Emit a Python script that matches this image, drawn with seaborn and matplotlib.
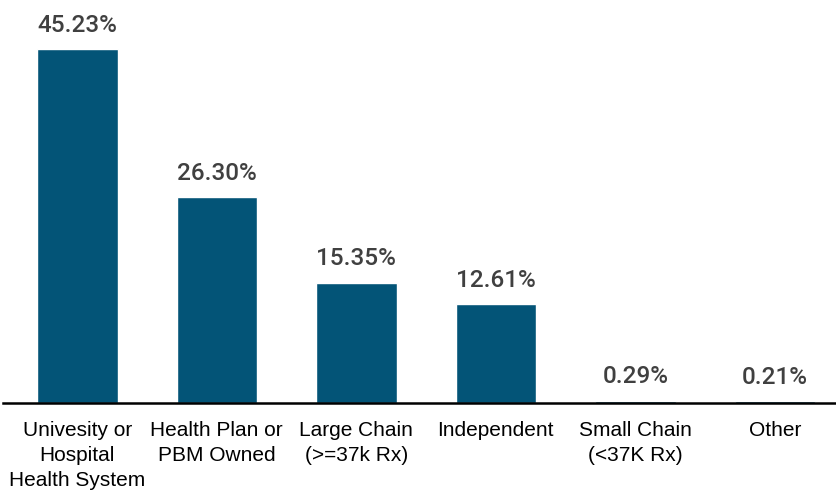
import matplotlib
matplotlib.use("Agg")
import matplotlib.pyplot as plt
import seaborn as sns
import pandas as pd

categories = [
    "Univesity or\nHospital\nHealth System",
    "Health Plan or\nPBM Owned",
    "Large Chain\n(>=37k Rx)",
    "Independent",
    "Small Chain\n(<37K Rx)",
    "Other",
]
shares = [45.23, 26.30, 15.35, 12.61, 0.29, 0.21]

df = pd.DataFrame({"category": categories, "share": shares})

sns.set_theme(style="white")
plt.rcParams["font.family"] = ["Liberation Sans", "DejaVu Sans"]

fig = plt.figure(figsize=(8.37, 4.91), dpi=100)
ax = fig.add_axes([0.004, 0.1792, 1.0, 0.797])

sns.barplot(data=df, x="category", y="share", color="#035477",
            width=0.577, saturation=1, ax=ax)

for patch, val in zip(ax.patches, shares):
    ax.annotate(f"{val:.2f}%",
                (patch.get_x() + patch.get_width() / 2, patch.get_height()),
                xytext=(0, 9), textcoords="offset points",
                ha="center", va="bottom", fontsize=17.5,
                fontfamily=["Roboto", "DejaVu Sans"],
                fontweight="medium", color="#404040")

ax.set_ylim(0, 50)
ax.set_xlim(-0.53, 5.47)
ax.set_xlabel("")
ax.set_ylabel("")
ax.set_yticks([])
for side in ["left", "right", "top"]:
    ax.spines[side].set_visible(False)
ax.spines["bottom"].set_color("black")
ax.spines["bottom"].set_linewidth(1.8)
ax.tick_params(axis="x", length=0, pad=13)
for lbl in ax.get_xticklabels():
    lbl.set_fontsize(15)
    lbl.set_color("black")
    lbl.set_linespacing(1.4)

fig.savefig("out.png", dpi=100)
